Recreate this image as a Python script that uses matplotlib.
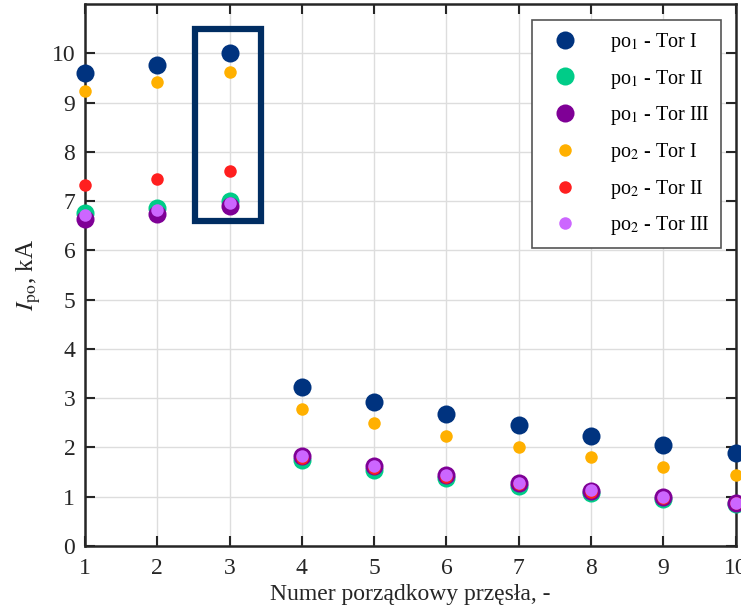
import matplotlib
matplotlib.use("Agg")
import matplotlib.pyplot as plt
import matplotlib.patches as patches

plt.rcParams["font.family"] = ["Liberation Serif", "DejaVu Serif"]
plt.rcParams["mathtext.fontset"] = "stix"

# numer przęsła
przeslo = [1, 2, 3, 4, 5, 6, 7, 8, 9, 10]

# prądy zwarciowe, kA
po1_tor1 = [9.61, 9.77, 10.00, 3.22, 2.93, 2.68, 2.45, 2.24, 2.05, 1.89]
po1_tor2 = [6.75, 6.85, 7.00, 1.74, 1.55, 1.38, 1.22, 1.08, 0.96, 0.85]
po1_tor3 = [6.64, 6.73, 6.90, 1.82, 1.62, 1.44, 1.28, 1.12, 1.00, 0.88]
po2_tor1 = [9.24, 9.41, 9.63, 2.79, 2.50, 2.24, 2.00, 1.80, 1.61, 1.44]
po2_tor2 = [7.32, 7.44, 7.61, 1.78, 1.58, 1.41, 1.25, 1.10, 0.98, 0.87]
po2_tor3 = [6.71, 6.81, 6.97, 1.83, 1.62, 1.44, 1.27, 1.13, 1.00, 0.88]

serie = [
    (po1_tor1, r"po$_1$ - Tor I", "#00337F", 13),
    (po1_tor2, r"po$_1$ - Tor II", "#00CC88", 13),
    (po1_tor3, r"po$_1$ - Tor III", "#7F0096", 13),
    (po2_tor1, r"po$_2$ - Tor I", "#FFB000", 9),
    (po2_tor2, r"po$_2$ - Tor II", "#FF1F1F", 9),
    (po2_tor3, r"po$_2$ - Tor III", "#CC66FF", 9),
]

fig = plt.figure(figsize=(7.41, 6.11), dpi=100)
ax = fig.add_axes([0.1147, 0.1064, 0.878, 0.887])

for dane, etykieta, kolor, ms in serie:
    ax.plot(przeslo, dane, linestyle="none", marker="o", markersize=ms,
            color=kolor, markeredgewidth=0, label=etykieta, zorder=3,
            clip_on=False)

# ramka wokół przęsła 3
ramka = patches.Rectangle((2.52, 6.59), 0.92, 3.91, fill=False,
                          edgecolor="#002D62", linewidth=4.5, zorder=4)
ax.add_patch(ramka)

ax.set_xlim(1, 10)
ax.set_ylim(0, 11)
ax.set_xticks(range(1, 11))
ax.set_yticks(range(0, 11))
ax.grid(True, color="#dddddd", linewidth=1.0, zorder=0)
ax.set_axisbelow(True)
ax.tick_params(direction="in", length=7, width=1.5, top=True, right=True,
               labelsize=17, colors="#262626")
ax.tick_params(axis="x", pad=9)
ax.tick_params(axis="y", pad=7)
for sp in ax.spines.values():
    sp.set_linewidth(1.8)
    sp.set_color("#262626")

ax.set_xlabel("Numer porządkowy przęsła, -", fontsize=17, color="#262626",
              labelpad=3)
ax.set_ylabel(r"$I_{\mathrm{po}}$, kA", fontsize=18, color="#262626",
              labelpad=6)

leg = ax.legend(loc="upper right", bbox_to_anchor=(0.977, 0.971),
                borderaxespad=0, fontsize=14.5,
                frameon=True, fancybox=False, edgecolor="#555555",
                framealpha=1.0, borderpad=0.55, labelspacing=0.68,
                handletextpad=1.1, handlelength=2.2)
leg.get_frame().set_linewidth(1.2)

fig.savefig("out.png", dpi=100)
